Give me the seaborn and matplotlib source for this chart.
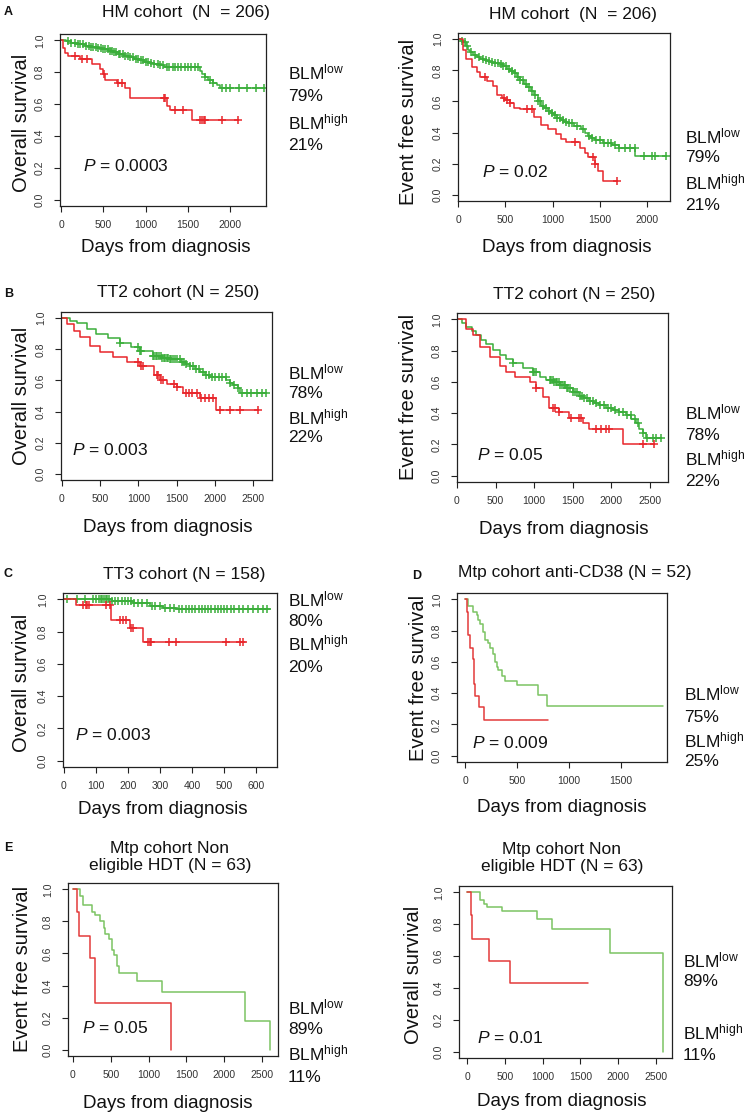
import numpy as np
import matplotlib
matplotlib.use("Agg")
import matplotlib.pyplot as plt
import seaborn as sns

# ---------------- DATA ----------------
# Panel A (HM cohort) overall survival
a_os_low_t = [0, 60, 120, 200, 280, 350, 420, 480, 560, 620, 680, 740, 800, 860, 920, 980, 1040, 1100,
              1160, 1220, 1300, 1640, 1670, 1700, 1740, 1790, 1840, 1880, 2400]
a_os_low_s = [1.0, 0.995, 0.985, 0.975, 0.965, 0.96, 0.955, 0.945, 0.935, 0.925, 0.915, 0.905, 0.895, 0.885,
              0.875, 0.865, 0.86, 0.85, 0.845, 0.835, 0.83, 0.81, 0.79, 0.77, 0.75, 0.735, 0.72, 0.70, 0.70]
a_os_low_c = [80, 120, 160, 200, 230, 260, 300, 330, 350, 380, 410, 440, 470, 500, 520, 550, 580, 600, 630,
              650, 680, 700, 730, 760, 790, 820, 850, 880, 910, 940, 970, 1000, 1030, 1060, 1100, 1140, 1170,
              1200, 1250, 1280, 1320, 1350, 1380, 1420, 1460, 1500, 1540, 1580, 1620, 1700, 1760, 1800, 1900,
              1950, 2000, 2100, 2200, 2300, 2400]
a_os_high_t = [0, 20, 47, 87, 225, 362, 461, 500, 520, 658, 756, 815, 1249, 1288, 1544, 2084]
a_os_high_s = [1.0, 0.95, 0.92, 0.90, 0.88, 0.85, 0.82, 0.79, 0.75, 0.73, 0.70, 0.64, 0.59, 0.56, 0.50, 0.50]
a_os_high_c = [165, 244, 311, 505, 678, 717, 1210, 1229, 1347, 1446, 1643, 1663, 1690, 1702, 1899, 2084]

# Panel A (HM cohort) event free survival
a_efs_low_t = [0, 30, 54, 80, 107, 130, 161, 200, 232, 270, 303, 340, 375, 410, 446, 480, 518, 550, 589,
               625, 660, 700, 732, 770, 803, 840, 875, 910, 946, 980, 1017, 1050, 1089, 1125, 1160, 1230,
               1303, 1340, 1374, 1410, 1446, 1530, 1625, 1696, 1875, 2196]
a_efs_low_s = [1.0, 0.99, 0.98, 0.955, 0.93, 0.915, 0.90, 0.885, 0.87, 0.865, 0.86, 0.855, 0.85, 0.845,
               0.84, 0.825, 0.81, 0.795, 0.78, 0.76, 0.74, 0.715, 0.69, 0.665, 0.64, 0.605, 0.57, 0.555,
               0.54, 0.525, 0.51, 0.495, 0.48, 0.47, 0.46, 0.44, 0.42, 0.40, 0.38, 0.365, 0.35, 0.335,
               0.32, 0.30, 0.25, 0.25]
a_efs_low_c = [40, 70, 100, 140, 180, 220, 260, 300, 330, 360, 390, 420, 450, 480, 510, 540, 570, 600, 630,
               660, 690, 720, 750, 780, 810, 840, 870, 900, 930, 960, 990, 1020, 1050, 1080, 1110, 1140,
               1170, 1200, 1260, 1320, 1380, 1420, 1460, 1500, 1540, 1580, 1620, 1660, 1700, 1760, 1820,
               1870, 1960, 2050, 2080, 2196]
a_efs_high_t = [0, 54, 89, 143, 196, 232, 303, 375, 410, 464, 500, 553, 589, 660, 803, 875, 946, 1035,
                1089, 1142, 1285, 1339, 1374, 1446, 1482, 1535, 1678]
a_efs_high_s = [1.0, 0.93, 0.87, 0.82, 0.79, 0.76, 0.73, 0.70, 0.64, 0.62, 0.61, 0.59, 0.56, 0.55, 0.50,
                0.45, 0.42, 0.39, 0.36, 0.34, 0.30, 0.27, 0.24, 0.20, 0.15, 0.09, 0.09]
a_efs_high_c = [286, 489, 518, 553, 732, 785, 1232, 1428, 1446, 1678]

# Panel B (TT2 cohort) overall survival
b_os_low_t = [0, 100, 196, 326, 450, 600, 761, 900, 1022, 1196, 1300, 1400, 1553, 1620, 1675, 1740, 1805,
              1870, 1936, 2153, 2200, 2240, 2300, 2327, 2675]
b_os_low_s = [1.0, 0.985, 0.97, 0.93, 0.90, 0.87, 0.84, 0.815, 0.79, 0.76, 0.745, 0.735, 0.72, 0.705,
              0.69, 0.675, 0.655, 0.635, 0.62, 0.60, 0.585, 0.57, 0.55, 0.52, 0.52]
b_os_low_c = [761, 1000, 1022, 1040, 1196, 1210, 1230, 1250, 1270, 1290, 1310, 1330, 1350, 1370, 1390,
              1410, 1430, 1450, 1480, 1510, 1540, 1570, 1600, 1630, 1680, 1720, 1760, 1800, 1840, 1880,
              1920, 1960, 2000, 2050, 2100, 2150, 2200, 2250, 2300, 2360, 2420, 2480, 2550, 2620, 2675]
b_os_high_t = [0, 65, 152, 239, 370, 500, 674, 848, 1022, 1205, 1283, 1370, 1501, 1588, 1805, 2023, 2567]
b_os_high_s = [1.0, 0.96, 0.92, 0.88, 0.82, 0.78, 0.75, 0.72, 0.69, 0.635, 0.60, 0.58, 0.56, 0.52, 0.49,
               0.41, 0.41]
b_os_high_c = [1000, 1040, 1060, 1240, 1260, 1290, 1320, 1466, 1510, 1620, 1660, 1700, 1770, 1820, 1870,
               1920, 1980, 2067, 2197, 2327, 2567]

# Panel B (TT2 cohort) event free survival
b_efs_low_t = [0, 60, 121, 190, 250, 315, 379, 465, 552, 640, 724, 850, 983, 1069, 1150, 1241, 1330, 1414,
               1500, 1586, 1650, 1715, 1780, 1845, 1930, 2017, 2100, 2190, 2260, 2319, 2360, 2405, 2448,
               2642]
b_efs_low_s = [1.0, 0.975, 0.95, 0.925, 0.90, 0.87, 0.84, 0.805, 0.77, 0.745, 0.72, 0.69, 0.66, 0.63,
               0.615, 0.60, 0.58, 0.56, 0.535, 0.51, 0.495, 0.48, 0.465, 0.45, 0.435, 0.42, 0.405, 0.39,
               0.365, 0.34, 0.30, 0.27, 0.24, 0.24]
b_efs_low_c = [724, 983, 1000, 1026, 1200, 1220, 1240, 1260, 1280, 1300, 1320, 1340, 1360, 1380, 1400,
               1420, 1440, 1470, 1500, 1530, 1560, 1590, 1620, 1650, 1680, 1720, 1760, 1800, 1850, 1900,
               1950, 2000, 2050, 2100, 2150, 2200, 2250, 2300, 2350, 2410, 2460, 2534, 2580, 2642]
b_efs_high_t = [0, 121, 207, 293, 422, 552, 638, 746, 940, 1026, 1112, 1198, 1327, 1457, 1629, 1715,
                2146, 2556]
b_efs_high_s = [1.0, 0.94, 0.90, 0.82, 0.76, 0.70, 0.66, 0.63, 0.60, 0.56, 0.50, 0.43, 0.41, 0.37, 0.34,
                0.30, 0.20, 0.20]
b_efs_high_c = [1026, 1241, 1263, 1327, 1478, 1586, 1608, 1802, 1866, 1931, 1974, 2405, 2556]

# Panel C (TT3 cohort) overall survival
c_os_low_t = [0, 150, 216, 268, 309, 351, 643]
c_os_low_s = [1.0, 0.99, 0.975, 0.96, 0.95, 0.94, 0.94]
c_os_low_c = [10, 40, 65, 90, 100, 110, 115, 120, 125, 130, 135, 140, 150, 160, 170, 180, 190, 200, 210,
              220, 230, 245, 260, 275, 285, 300, 315, 330, 345, 360, 370, 380, 390, 400, 410, 420, 430,
              440, 450, 460, 470, 480, 490, 500, 510, 520, 530, 545, 560, 575, 590, 605, 620, 635]
c_os_high_t = [0, 39, 148, 205, 247, 565]
c_os_high_s = [1.0, 0.965, 0.875, 0.82, 0.735, 0.735]
c_os_high_c = [60, 68, 72, 78, 132, 143, 174, 185, 195, 210, 216, 262, 268, 273, 328, 351, 507, 549, 560]

# Panel D (Mtp cohort anti-CD38) event free survival
d_efs_low_t = [0, 32, 80, 112, 128, 144, 177, 193, 225, 241, 273, 289, 305, 321, 353, 385, 498, 706, 786,
               1903]
d_efs_low_s = [1.0, 0.96, 0.92, 0.90, 0.87, 0.84, 0.79, 0.74, 0.72, 0.69, 0.65, 0.60, 0.57, 0.55, 0.51,
               0.48, 0.45, 0.39, 0.32, 0.32]
d_efs_high_t = [0, 20, 25, 32, 45, 80, 83, 87, 92, 135, 180, 794]
d_efs_high_s = [1.0, 0.92, 0.85, 0.77, 0.69, 0.62, 0.54, 0.46, 0.38, 0.31, 0.23, 0.23]

# Panel E (Mtp cohort non eligible HDT)
e_efs_low_t = [0, 97, 132, 251, 295, 362, 406, 428, 472, 516, 538, 582, 604, 847, 1177, 2280, 2611]
e_efs_low_s = [1.0, 0.96, 0.90, 0.86, 0.84, 0.80, 0.76, 0.72, 0.69, 0.62, 0.59, 0.52, 0.48, 0.43, 0.36,
               0.18, 0.0]
e_efs_high_t = [0, 53, 75, 229, 287, 292, 1301]
e_efs_high_s = [1.0, 0.86, 0.71, 0.57, 0.43, 0.29, 0.0]
e_os_low_t = [0, 176, 220, 265, 463, 926, 1125, 1888, 2593]
e_os_low_s = [1.0, 0.95, 0.93, 0.91, 0.88, 0.83, 0.77, 0.62, 0.0]
e_os_high_t = [0, 53, 60, 287, 564, 1596]
e_os_high_s = [1.0, 0.86, 0.71, 0.57, 0.43, 0.43]

titles = ["HM cohort  (N  = 206)", "HM cohort  (N  = 206)", "TT2 cohort (N = 250)", "TT2 cohort (N = 250)",
          "TT3 cohort (N = 158)", "Mtp cohort anti-CD38 (N = 52)",
          "Mtp cohort Non\neligible HDT (N = 63)", "Mtp cohort Non\neligible HDT (N = 63)"]
ylabels = ["Overall survival", "Event free survival", "Overall survival", "Event free survival",
           "Overall survival", "Event free survival", "Event free survival", "Overall survival"]
p_values = ["0.0003", "0.02", "0.003", "0.05", "0.003", "0.009", "0.05", "0.01"]
pct_low = ["79%", "79%", "78%", "78%", "80%", "75%", "89%", "89%"]
pct_high = ["21%", "21%", "22%", "22%", "20%", "25%", "11%", "11%"]
xticks_list = [[0, 500, 1000, 1500, 2000], [0, 500, 1000, 1500, 2000],
               [0, 500, 1000, 1500, 2000, 2500], [0, 500, 1000, 1500, 2000, 2500],
               [0, 100, 200, 300, 400, 500, 600], [0, 500, 1000, 1500],
               [0, 500, 1000, 1500, 2000, 2500], [0, 500, 1000, 1500, 2000, 2500]]
yticks = [0.0, 0.2, 0.4, 0.6, 0.8, 1.0]
panel_letters = ["A", "B", "C", "D", "E"]

curves = [
    ((a_os_low_t, a_os_low_s, a_os_low_c), (a_os_high_t, a_os_high_s, a_os_high_c)),
    ((a_efs_low_t, a_efs_low_s, a_efs_low_c), (a_efs_high_t, a_efs_high_s, a_efs_high_c)),
    ((b_os_low_t, b_os_low_s, b_os_low_c), (b_os_high_t, b_os_high_s, b_os_high_c)),
    ((b_efs_low_t, b_efs_low_s, b_efs_low_c), (b_efs_high_t, b_efs_high_s, b_efs_high_c)),
    ((c_os_low_t, c_os_low_s, c_os_low_c), (c_os_high_t, c_os_high_s, c_os_high_c)),
    ((d_efs_low_t, d_efs_low_s, []), (d_efs_high_t, d_efs_high_s, [])),
    ((e_efs_low_t, e_efs_low_s, []), (e_efs_high_t, e_efs_high_s, [])),
    ((e_os_low_t, e_os_low_s, []), (e_os_high_t, e_os_high_s, [])),
]

# ---------------- LAYOUT (pixels) ----------------
W, H = 755, 1119
boxes = [(60, 34, 266, 206), (458, 33, 670, 201), (61, 312, 272, 480), (457, 313, 668, 482),
         (63, 593, 277, 767), (457, 593, 667, 762), (68, 883, 278, 1056), (459, 886, 672, 1058)]
xlims = [(-12, 2420), (0, 2240), (-13, 2750), (0, 2733), (-3, 665), (-77, 1942), (-66, 2712), (-106, 2712)]
title_pos = [(186, 12), (573, 15), (178, 293), (574, 294), (184, 575), (575, 572), (170, 857), (562, 858)]
xlabel_pos = [(166, 247), (567, 247), (168, 528), (564, 530), (163, 810), (562, 807), (168, 1103), (562, 1102)]
ylabel_pos = [(22, 123), (408, 122), (22, 396), (408, 397), (22, 683), (418, 678), (23, 969), (413, 975)]
side_x = [288, 685, 288, 685, 288, 684, 288, 683]
side_y = [(72, 96, 122, 145), (136, 157, 182, 206), (372, 393, 417, 438), (412, 435, 458, 482),
          (599, 622, 643, 667), (693, 717, 740, 762), (1007, 1030, 1053, 1077), (960, 982, 1032, 1055)]
p_pos = [(83, 166), (482, 172), (72, 450), (477, 455), (75, 735), (472, 743), (82, 1028), (477, 1038)]
letter_pos = [(4, 12), (4, 294), (4, 574), (412, 576), (4, 848)]

RED = "#e8262b"
GREEN_DENSE = "#3aae3a"
GREEN_LIGHT = "#7cc463"
RED_LIGHT = "#e33a3a"

sns.set_theme(style="white")
plt.rcParams["font.family"] = ["Liberation Sans", "DejaVu Sans"]
plt.rcParams["mathtext.fontset"] = "custom"
plt.rcParams["mathtext.rm"] = "Liberation Sans"
plt.rcParams["mathtext.it"] = "Liberation Sans:italic"
plt.rcParams["mathtext.bf"] = "Liberation Sans:bold"

fig = plt.figure(figsize=(W / 100, H / 100), dpi=100)
fig.patch.set_facecolor("white")


def ftext(x, y, s, **kw):
    fig.text(x / W, 1 - y / H, s, **kw)


def step_value(t, s, c):
    idx = np.searchsorted(np.asarray(t), c, side="right") - 1
    return np.asarray(s)[idx]


for i in range(8):
    l, t, r, b = boxes[i]
    ax = fig.add_axes([l / W, 1 - b / H, (r - l) / W, (b - t) / H])
    ax.set_facecolor("white")
    light = i >= 5
    gcol = GREEN_LIGHT if light else GREEN_DENSE
    rcol = RED_LIGHT if light else RED
    for (tt, ss, cc), col in zip(curves[i], [gcol, rcol]):
        sns.lineplot(x=tt, y=ss, drawstyle="steps-post", estimator=None, sort=False,
                     color=col, lw=1.1, ax=ax, legend=False)
        if len(cc):
            cv = step_value(tt, ss, np.asarray(cc))
            ax.plot(cc, cv, linestyle="none", marker="+", markersize=5.5, mew=1.1, color=col)
    ax.set_xlim(*xlims[i])
    ax.set_ylim(-0.04, 1.04)
    ax.set_xticks(xticks_list[i])
    ax.set_xticklabels([str(v) for v in xticks_list[i]])
    ax.set_yticks(yticks)
    ax.set_yticklabels([f"{v:.1f}" for v in yticks])
    ax.set_xlabel("")
    ax.set_ylabel("")
    ax.tick_params(axis="both", direction="out", length=4, width=0.8, colors="#222",
                   labelsize=7.5, labelcolor="#333", bottom=True, left=True)
    ax.tick_params(axis="x", pad=6)
    ax.tick_params(axis="y", pad=7)
    for lab in ax.get_yticklabels():
        lab.set_rotation(90)
        lab.set_va("center")
        lab.set_ha("right")
    for sp in ax.spines.values():
        sp.set_visible(True)
        sp.set_color("#222")
        sp.set_linewidth(0.9)

    tx, ty = title_pos[i]
    ftext(tx, ty, titles[i], ha="center", va="center", fontsize=12.5, color="#111", linespacing=1.15)
    xx, xy = xlabel_pos[i]
    ftext(xx, xy, "Days from diagnosis", ha="center", va="center", fontsize=13.5, color="#111")
    yx, yy = ylabel_pos[i]
    ftext(yx, yy, ylabels[i], ha="center", va="center", rotation=90, fontsize=14.5, color="#111")
    sx = side_x[i]
    y1, y2, y3, y4 = side_y[i]
    ftext(sx, y1, r"BLM$^{\mathrm{low}}$", ha="left", va="center", fontsize=12.5, color="#111")
    ftext(sx, y2, pct_low[i], ha="left", va="center", fontsize=12.5, color="#111")
    ftext(sx, y3, r"BLM$^{\mathrm{high}}$", ha="left", va="center", fontsize=12.5, color="#111")
    ftext(sx, y4, pct_high[i], ha="left", va="center", fontsize=12.5, color="#111")
    px, py = p_pos[i]
    ftext(px, py, r"$\mathit{P}$ = " + p_values[i], ha="left", va="center", fontsize=12.5, color="#111")

for (lx, ly), letter in zip(letter_pos, panel_letters):
    ftext(lx, ly, letter, ha="left", va="center", fontsize=9, fontweight="bold", color="#111")

fig.savefig("out.png", dpi=100, facecolor="white")
